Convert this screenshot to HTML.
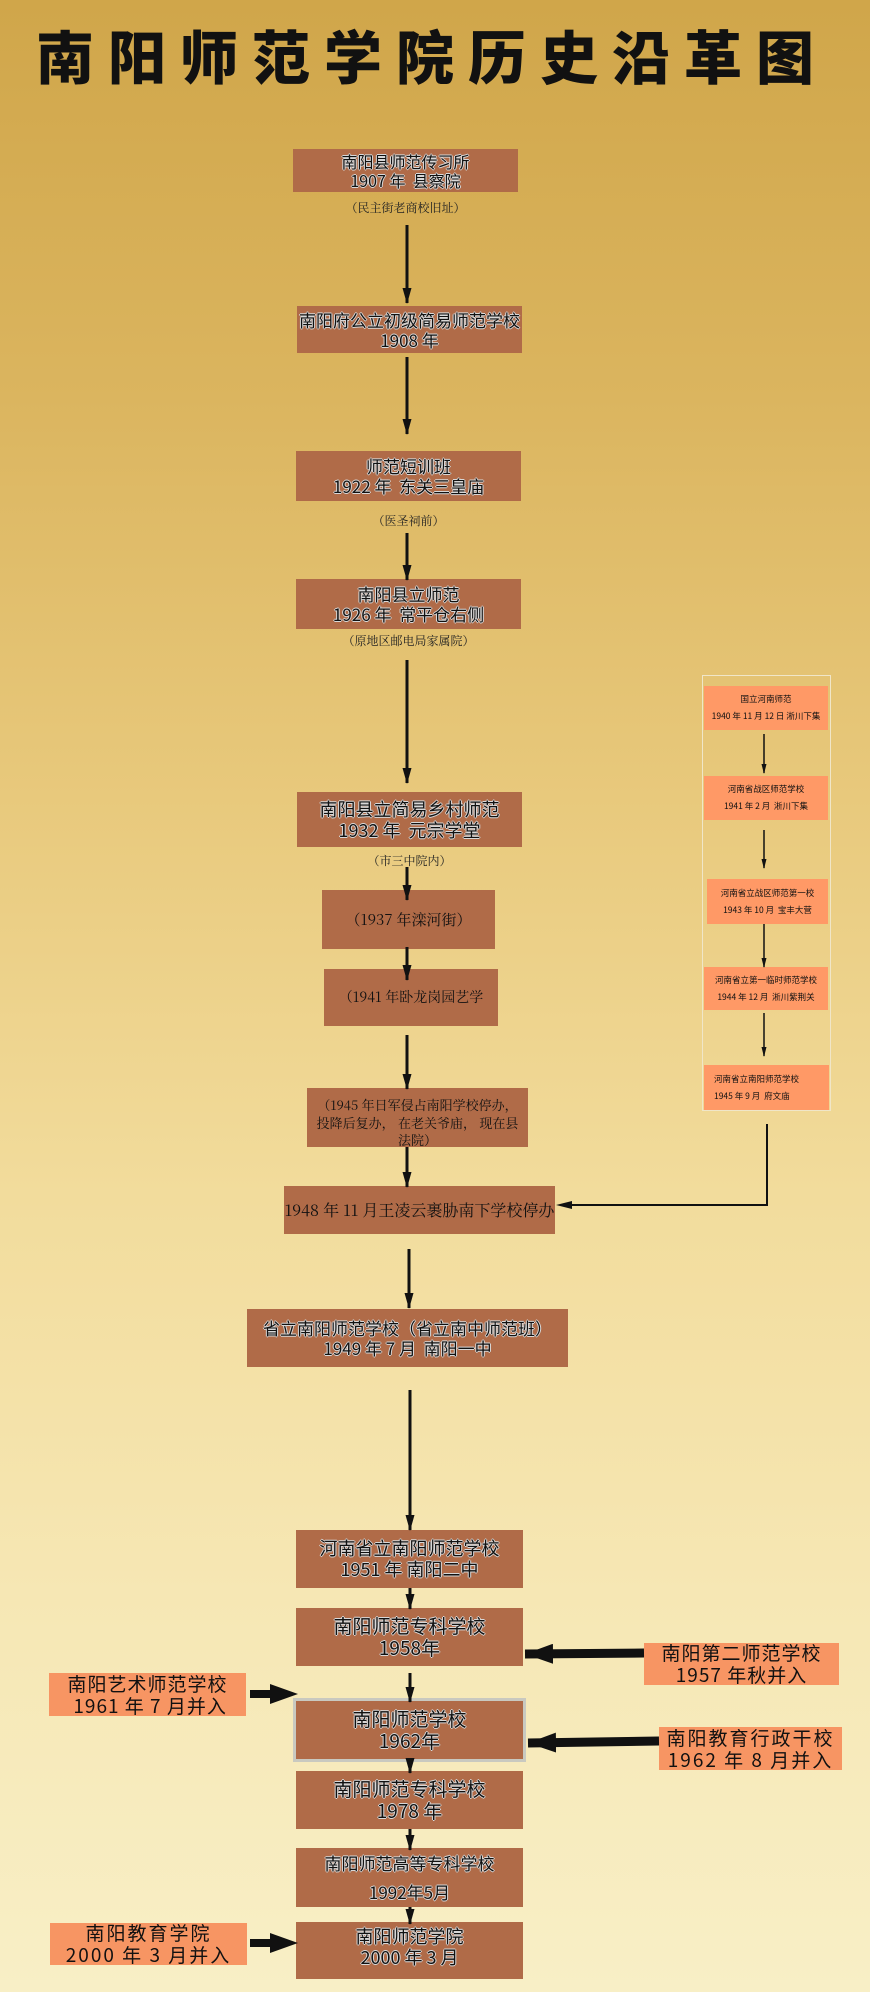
<!DOCTYPE html>
<html><head><meta charset="utf-8"><style>
html,body{margin:0;padding:0}
body{width:870px;height:1992px;position:relative;overflow:hidden;
background:linear-gradient(180deg,#d0a64a 0%,#dbb55f 20%,#e8c97c 40%,#f2dc9c 60%,#f6e7b4 80%,#f8efc6 100%);
font-family:"Liberation Sans","Noto Sans CJK SC",sans-serif;}
.t{position:absolute;left:36px;top:12px;width:800px;font-size:58px;font-weight:900;letter-spacing:14px;color:#111;white-space:nowrap;font-family:"Noto Sans CJK SC",sans-serif;}
.b{position:absolute;background:#b06b48;display:flex;flex-direction:column;align-items:center;justify-content:center;text-align:center;color:#111;line-height:1.15;
text-shadow:1px 0 0 #d8d8d8,-1px 0 0 #d8d8d8,0 1px 0 #d8d8d8,0 -1px 0 #d8d8d8;box-sizing:border-box;font-family:"Noto Sans CJK SC",sans-serif}
.s{position:absolute;background:#f79563;display:flex;flex-direction:column;align-items:center;justify-content:center;text-align:center;color:#111;line-height:1.15;box-sizing:border-box;font-family:"Noto Sans CJK SC",sans-serif}
.sub{position:absolute;font-size:12px;color:#222;text-align:center;font-family:"Noto Serif CJK SC",serif;}
.r{position:absolute;background:#ff9966;font-size:8.5px;color:#111;line-height:2;text-align:center;display:flex;flex-direction:column;justify-content:center;white-space:nowrap;overflow:hidden;font-family:"Noto Sans CJK SC",sans-serif}
svg{position:absolute;left:0;top:0}
</style></head><body>
<div class="t">南阳师范学院历史沿革图</div>

<div class="b" style="left:293px;top:149px;width:225px;height:43px;font-size:16px">南阳县师范传习所<br>1907 年&nbsp;&nbsp;县察院</div>
<div class="sub" style="left:293px;top:199px;width:225px">（民主街老商校旧址）</div>
<div class="b" style="left:297px;top:306px;width:225px;height:47px;font-size:17px">南阳府公立初级简易师范学校<br>1908 年</div>
<div class="b" style="left:296px;top:451px;width:225px;height:50px;font-size:17px">师范短训班<br>1922 年&nbsp;&nbsp;东关三皇庙</div>
<div class="sub" style="left:296px;top:512px;width:225px">（医圣祠前）</div>
<div class="b" style="left:296px;top:579px;width:225px;height:50px;font-size:17px">南阳县立师范<br>1926 年&nbsp;&nbsp;常平仓右侧</div>
<div class="sub" style="left:296px;top:632px;width:225px">（原地区邮电局家属院）</div>
<div class="b" style="left:297px;top:792px;width:225px;height:55px;font-size:18px">南阳县立简易乡村师范<br>1932 年&nbsp;&nbsp;元宗学堂</div>
<div class="sub" style="left:297px;top:852px;width:225px">（市三中院内）</div>
<div class="b" style="left:322px;top:890px;width:173px;height:59px;font-size:15px;font-family:'Noto Serif CJK SC',serif;text-shadow:none">（1937 年滦河街）</div>
<div class="b" style="left:324px;top:969px;width:174px;height:57px;font-size:14px;font-family:'Noto Serif CJK SC',serif;text-shadow:none">（1941 年卧龙岗园艺学</div>
<div class="b" style="left:307px;top:1088px;width:221px;height:59px;font-size:13px;font-family:'Noto Serif CJK SC',serif;justify-content:flex-start;padding-top:8px;line-height:1.35;text-shadow:none">（1945 年日军侵占南阳学校停办，<br>投降后复办，&nbsp;在老关爷庙，&nbsp;现在县<br>法院）</div>
<div class="b" style="left:284px;top:1186px;width:271px;height:48px;font-size:16px;font-family:'Noto Serif CJK SC',serif;text-shadow:none">1948 年 11 月王凌云裹胁南下学校停办</div>
<div class="b" style="left:247px;top:1309px;width:321px;height:58px;font-size:17px">省立南阳师范学校（省立南中师范班）<br>1949 年 7 月&nbsp;&nbsp;南阳一中</div>

<div style="position:absolute;left:702px;top:675px;width:129px;height:436px;border:1px solid #f0e6c8;box-sizing:border-box"></div>
<div class="r" style="left:704px;top:686px;width:124px;height:44px">国立河南师范<br>1940 年 11 月 12 日&nbsp;淅川下集</div>
<div class="r" style="left:704px;top:776px;width:124px;height:44px">河南省战区师范学校<br>1941 年 2 月&nbsp;&nbsp;淅川下集</div>
<div class="r" style="left:707px;top:879px;width:121px;height:45px">河南省立战区师范第一校<br>1943 年 10 月&nbsp;&nbsp;宝丰大营</div>
<div class="r" style="left:704px;top:967px;width:124px;height:43px">河南省立第一临时师范学校<br>1944 年 12 月&nbsp;&nbsp;淅川紫荆关</div>
<div class="r" style="left:704px;top:1065px;width:125px;height:45px;text-align:left;padding-left:10px;box-sizing:border-box">河南省立南阳师范学校<br>1945 年 9 月&nbsp;&nbsp;府文庙</div>

<div class="b" style="left:296px;top:1530px;width:227px;height:58px;font-size:18px">河南省立南阳师范学校<br>1951 年&nbsp;南阳二中</div>
<div class="b" style="left:296px;top:1608px;width:227px;height:58px;font-size:19px">南阳师范专科学校<br>1958年</div>
<div class="s" style="left:644px;top:1643px;width:195px;height:42px;font-size:19px;letter-spacing:1px">南阳第二师范学校<br>1957 年秋并入</div>
<div class="s" style="left:49px;top:1673px;width:197px;height:43px;font-size:19px;letter-spacing:1px">南阳艺术师范学校<br>&nbsp;1961 年 7 月并入</div>
<div class="b" style="left:293px;top:1698px;width:233px;height:64px;font-size:19px;border:3px solid #c9c9c0">南阳师范学校<br>1962年</div>
<div class="s" style="left:659px;top:1727px;width:183px;height:43px;font-size:19px;letter-spacing:2px">南阳教育行政干校<br>1962 年 8 月并入</div>
<div class="b" style="left:296px;top:1771px;width:227px;height:58px;font-size:19px">南阳师范专科学校<br>1978 年</div>
<div class="b" style="left:296px;top:1848px;width:227px;height:59px;font-size:17px;line-height:1.7">南阳师范高等专科学校<br>1992年5月</div>
<div class="b" style="left:296px;top:1922px;width:227px;height:57px;font-size:18px;justify-content:flex-start;padding-top:4px">南阳师范学院<br>2000 年 3 月</div>
<div class="s" style="left:50px;top:1923px;width:197px;height:42px;font-size:19px;letter-spacing:2px">南阳教育学院<br>2000 年 3 月并入</div>

<svg width="870" height="1992" viewBox="0 0 870 1992">
<defs>
<marker id="a" markerWidth="16" markerHeight="9" refX="15" refY="4.5" orient="auto" markerUnits="userSpaceOnUse" viewBox="0 0 16 9"><path d="M0,0 L16,4.5 L0,9 z" fill="#111"/></marker>
<marker id="s" markerWidth="10" markerHeight="5" refX="9" refY="2.5" orient="auto" markerUnits="userSpaceOnUse" viewBox="0 0 10 5"><path d="M0,0 L10,2.5 L0,5 z" fill="#111"/></marker>
<marker id="t" markerWidth="28" markerHeight="20" refX="28" refY="10" orient="auto" markerUnits="userSpaceOnUse" viewBox="0 0 28 20"><path d="M0,0 L28,10 L0,20 z" fill="#111"/></marker>
</defs>
<g stroke="#111" stroke-width="3" fill="none" marker-end="url(#a)">
<line x1="407" y1="225" x2="407" y2="303"/>
<line x1="407" y1="357" x2="407" y2="434"/>
<line x1="407" y1="533" x2="407" y2="580"/>
<line x1="407" y1="660" x2="407" y2="783"/>
<line x1="407" y1="867" x2="407" y2="900"/>
<line x1="407" y1="947" x2="407" y2="980"/>
<line x1="407" y1="1035" x2="407" y2="1089"/>
<line x1="407" y1="1147" x2="407" y2="1187"/>
<line x1="409" y1="1249" x2="409" y2="1308"/>
<line x1="410" y1="1390" x2="410" y2="1530"/>
<line x1="410" y1="1588" x2="410" y2="1609"/>
<line x1="410" y1="1673" x2="410" y2="1702"/>
<line x1="410" y1="1760" x2="410" y2="1773"/>
<line x1="410" y1="1829" x2="410" y2="1850"/>
<line x1="410" y1="1907" x2="410" y2="1924"/>
</g>
<g stroke="#111" stroke-width="1.5" fill="none" marker-end="url(#s)">
<line x1="764" y1="734" x2="764" y2="773"/>
<line x1="764" y1="830" x2="764" y2="868"/>
<line x1="764" y1="924" x2="764" y2="967"/>
<line x1="764" y1="1013" x2="764" y2="1056"/>
</g>
<path d="M767,1124 L767,1205 L570,1205" stroke="#111" stroke-width="2" fill="none"/>
<path d="M556,1205 L572,1201 L572,1209 z" fill="#111"/>
<g stroke="#111" stroke-width="9" fill="none" marker-end="url(#t)">
<line x1="644" y1="1653" x2="525" y2="1654"/>
<line x1="659" y1="1741" x2="528" y2="1743"/>
</g>
<g stroke="#111" stroke-width="8" fill="none">
<line x1="250" y1="1694" x2="275" y2="1694"/>
<line x1="250" y1="1943" x2="275" y2="1943"/>
</g>
<path d="M270,1684 L298,1694 L270,1704 z" fill="#111"/>
<path d="M270,1933 L298,1943 L270,1953 z" fill="#111"/>
</svg>
</body></html>
